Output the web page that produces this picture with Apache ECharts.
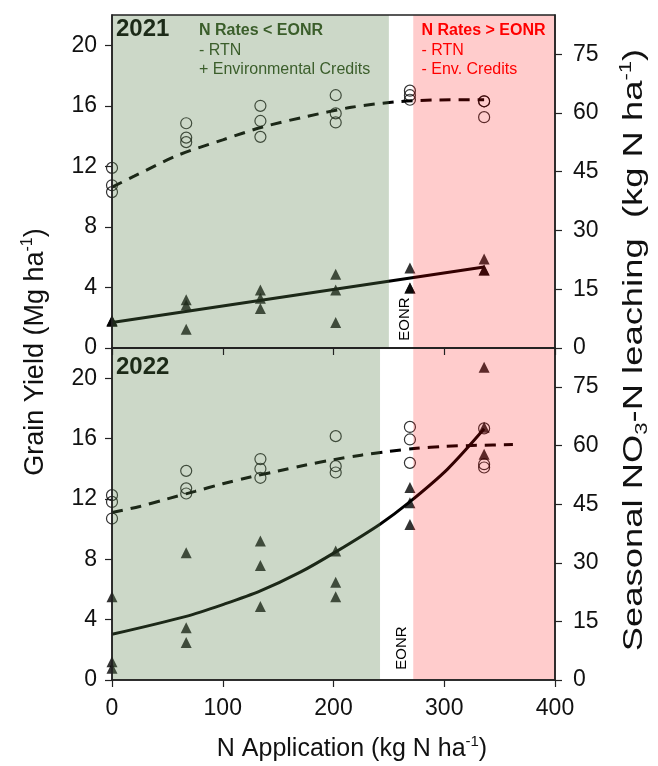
<!DOCTYPE html>
<html><head><meta charset="utf-8">
<script src="https://cdn.jsdelivr.net/npm/echarts@6/dist/echarts.min.js"></script>
<style>html,body{margin:0;padding:0;background:#fff}#c{width:658px;height:766px}</style>
</head><body><div id="c"></div><script>
// ---- data ----
const nRates = [0, 67, 134, 202, 269, 336];
// grain yield (Mg/ha), three reps per rate
const yield2021 = [[11.9,10.75,10.3],[14.85,13.9,13.6],[16.0,15.0,13.95],[16.7,15.5,14.9],[17.0,16.7,16.4],[16.3,16.3,15.25]];
const yield2022 = [[12.25,11.8,10.7],[13.86,12.7,12.36],[14.64,14.0,13.4],[16.16,14.17,13.75],[16.77,15.94,14.39],[16.67,14.3,14.08]];
// seasonal NO3-N leaching (kg N/ha)
const leach2021 = [[6.9,6.8,7.0],[12.3,11.0,4.8],[14.8,12.7,10.1],[18.85,14.8,6.5],[20.4,15.3,15.3],[22.7,19.9,19.9]];
const leach2022 = [[21.3,4.7,3.0],[32.6,13.4,9.6],[35.6,29.3,18.8],[33.0,25.0,21.3],[49.3,45.4,39.8],[80.1,64.7,57.8]];
// fitted curves
const yieldFit2021X = [0,20,60,100,136,176,216,255,290,336];
const yieldFit2021Y = [10.63,11.35,12.75,13.75,14.6,15.3,15.9,16.25,16.38,16.4];
const leachFit2021X = [0,336];
const leachFit2021Y = [6.5,20.7];
const yieldFit2022X = [0,25,50,75,100,125,150,175,200,225,250,275,300,330,362];
const yieldFit2022Y = [11.1,11.5,12.0,12.5,13.0,13.45,13.85,14.25,14.6,14.9,15.15,15.35,15.48,15.55,15.6];
const leachFit2022X = [0,67,100,134,170,202,242,268,303,336];
const leachFit2022Y = [11.7,16.3,19.3,22.8,27.6,32.8,39.9,45.4,54.0,64.3];
// shaded N-rate zones [from, to]
const zonesBelow2021 = [0,250];
const zonesAbove2021 = [272,400];
const zonesBelow2022 = [0,242];
const zonesAbove2022 = [272,400];
// ticks
const xTicks = [0,100,200,300,400];
const yieldTicks = [0,4,8,12,16,20];
const leachTicks = [0,15,30,45,60,75];
const yieldMax = 22, leachMax = 85, xMax = 400;

const FONT = 'Liberation Sans, Arial, sans-serif';
const GREEN_OV = 'rgba(90,129,77,0.31)';
const PINK_OV = 'rgba(255,0,0,0.2)';

function flat(rates, reps){const out=[];rates.forEach((r,i)=>reps[i].forEach(v=>out.push([r,v])));return out;}
function pairs(xs, ys){return xs.map((x,i)=>[x,ys[i]]);}

const chart = echarts.init(document.getElementById('c'), null, {renderer:'canvas'});

const grids = [
  {left:112, right:103, top:15, height:333, show:true, borderColor:'#222', borderWidth:1.5, backgroundColor:'transparent', z:20},
  {left:112, right:103, top:348, height:332, show:true, borderColor:'#222', borderWidth:1.5, backgroundColor:'transparent', z:20}
];
function xAx(gi, showLabels){
  return {type:'value', gridIndex:gi, min:0, max:xMax, interval:100, z:20,
    axisLine:{show:true, onZero:false, lineStyle:{color:'#222', width:1.5}},
    axisTick:{show:true, inside:false, length:7, customValues:xTicks, lineStyle:{color:'#222', width:1.2}},
    axisLabel:{show:showLabels, customValues:xTicks, fontSize:23, fontFamily:FONT, color:'#111', margin:17},
    splitLine:{show:false}};
}
function yAx(gi, pos, max, ticks, margin){
  return {type:'value', gridIndex:gi, position:pos, min:0, max:max, z:20,
    axisLine:{show:true, onZero:false, lineStyle:{color:'#222', width:1.5}},
    axisTick:{show:true, inside:false, length:7, customValues:ticks, lineStyle:{color:'#222', width:1.2}},
    axisLabel:{show:true, customValues:ticks, fontSize:23, fontFamily:FONT, color:'#111', margin:margin},
    splitLine:{show:false}};
}

function shade(gi, yi, below, above){
  return {type:'custom', xAxisIndex:gi, yAxisIndex:yi, z:10, silent:true,
    data:[[below[0],below[1],0],[above[0],above[1],1]],
    encode:{x:[0,1]},
    renderItem:function(params, api){
      const a = api.coord([api.value(0),0]);
      const b = api.coord([api.value(1),0]);
      const cs = params.coordSys;
      return {type:'rect', shape:{x:a[0], y:cs.y, width:b[0]-a[0], height:cs.height},
        style:{fill: api.value(2)===0 ? GREEN_OV : PINK_OV}};
    }};
}
function circles(gi, yi, data){
  return {type:'scatter', xAxisIndex:gi, yAxisIndex:yi, data:data, symbol:'circle', symbolSize:11, z:4,
    itemStyle:{color:'rgba(0,0,0,0)', borderColor:'#000', borderWidth:1.2}};
}
function tris(gi, yi, data){
  return {type:'scatter', xAxisIndex:gi, yAxisIndex:yi, data:data, symbol:'triangle', symbolSize:11, z:4,
    itemStyle:{color:'#000'}};
}
function fit(gi, yi, data, dashed){
  return {type:'line', xAxisIndex:gi, yAxisIndex:yi, data:data, showSymbol:false, symbol:'none', smooth:0.3, z:3,
    lineStyle:{color:'#000', width:3, type: dashed ? [11,8] : 'solid', cap:'butt'}};
}

const option = {
  animation:false,
  grid:grids,
  xAxis:[xAx(0,false), xAx(1,true)],
  yAxis:[yAx(0,'left',yieldMax,yieldTicks,15), yAx(0,'right',leachMax,leachTicks,18),
         yAx(1,'left',yieldMax,yieldTicks,15), yAx(1,'right',leachMax,leachTicks,18)],
  series:[
    fit(0,0,pairs(yieldFit2021X,yieldFit2021Y),true),
    fit(0,1,pairs(leachFit2021X,leachFit2021Y),false),
    circles(0,0,flat(nRates,yield2021)),
    tris(0,1,flat(nRates,leach2021)),
    shade(0,0,zonesBelow2021,zonesAbove2021),
    fit(1,2,pairs(yieldFit2022X,yieldFit2022Y),true),
    fit(1,3,pairs(leachFit2022X,leachFit2022Y),false),
    circles(1,2,flat(nRates,yield2022)),
    tris(1,3,flat(nRates,leach2022)),
    shade(1,2,zonesBelow2022,zonesAbove2022)
  ],
  graphic:[
    {type:'text', x:116, y:29, z:30, style:{text:'2021', font:'bold 24px '+FONT, fill:'#1c2a18', verticalAlign:'middle'}},
    {type:'text', x:116, y:367, z:30, style:{text:'2022', font:'bold 24px '+FONT, fill:'#1c2a18', verticalAlign:'middle'}},
    {type:'text', x:199, y:31, z:30, style:{text:'N Rates < EONR', font:'bold 16px '+FONT, fill:'#3b5e2b', verticalAlign:'middle'}},
    {type:'text', x:199, y:50.5, z:30, style:{text:'- RTN', font:'16px '+FONT, fill:'#3b5e2b', verticalAlign:'middle'}},
    {type:'text', x:199, y:70, z:30, style:{text:'+ Environmental Credits', font:'16px '+FONT, fill:'#3b5e2b', verticalAlign:'middle'}},
    {type:'text', x:421.5, y:31, z:30, style:{text:'N Rates > EONR', font:'bold 16px '+FONT, fill:'#ff0000', verticalAlign:'middle'}},
    {type:'text', x:421.5, y:50.5, z:30, style:{text:'- RTN', font:'16px '+FONT, fill:'#ff0000', verticalAlign:'middle'}},
    {type:'text', x:421.5, y:70, z:30, style:{text:'- Env. Credits', font:'16px '+FONT, fill:'#ff0000', verticalAlign:'middle'}},
    {type:'text', x:405, y:319, rotation:Math.PI/2, z:30, style:{text:'EONR', font:'15px '+FONT, fill:'#000', align:'center', verticalAlign:'middle'}},
    {type:'text', x:402, y:648, rotation:Math.PI/2, z:30, style:{text:'EONR', font:'15px '+FONT, fill:'#000', align:'center', verticalAlign:'middle'}},
    {type:'text', x:352, y:749, z:30, style:{text:'{a|N Application (kg N ha}{s|-1}{a|)}', align:'center', verticalAlign:'middle',
      rich:{a:{fontSize:25, fontFamily:FONT, fill:'#111', lineHeight:29}, s:{fontSize:15, fontFamily:FONT, fill:'#111', verticalAlign:'top', lineHeight:29}}}},
    {type:'text', x:36, y:352, rotation:Math.PI/2, z:30, style:{text:'{a|Grain Yield (Mg ha}{s|-1}{a|)}', align:'center', verticalAlign:'middle',
      rich:{a:{fontSize:27, fontFamily:FONT, fill:'#111', lineHeight:32}, s:{fontSize:16, fontFamily:FONT, fill:'#111', verticalAlign:'top', lineHeight:32}}}},
    {type:'text', x:634, y:350, rotation:Math.PI/2, scaleX:1.3, z:30, style:{text:'{a|Seasonal NO}{b|3}{a|-N leaching  (kg N ha}{s|-1}{a|)}', align:'center', verticalAlign:'middle',
      rich:{a:{fontSize:28, fontFamily:FONT, fill:'#111', lineHeight:33}, b:{fontSize:17, fontFamily:FONT, fill:'#111', verticalAlign:'bottom', lineHeight:33}, s:{fontSize:17, fontFamily:FONT, fill:'#111', verticalAlign:'top', lineHeight:33}}}}
  ]
};
chart.setOption(option);
</script></body></html>
